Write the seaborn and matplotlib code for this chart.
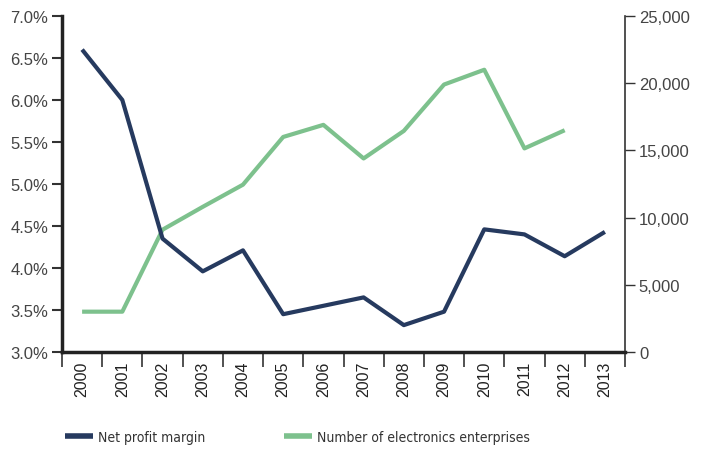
import numpy as np
import pandas as pd
import matplotlib
matplotlib.use("Agg")
import matplotlib.pyplot as plt
import seaborn as sns
from matplotlib.lines import Line2D
from matplotlib.ticker import FuncFormatter, FixedLocator

years = ['2000', '2001', '2002', '2003', '2004', '2005', '2006',
         '2007', '2008', '2009', '2010', '2011', '2012', '2013']
net_margin = [6.6, 6.0, 4.35, 3.96, 4.21, 3.45, 3.55,
              3.65, 3.32, 3.48, 4.46, 4.40, 4.14, 4.43]
enterprises = [3000, 3000, 9100, 10800, 12450, 16000, 16900,
               14400, 16450, 19900, 21000, 15150, 16500, np.nan]

navy = '#263a5f'
green = '#7dc18d'

sns.set_theme(style='white')
plt.rcParams['font.family'] = ['Liberation Sans', 'DejaVu Sans']

df = pd.DataFrame({'pos': np.arange(len(years)), 'year': years,
                   'margin': net_margin, 'ent': enterprises})

fig = plt.figure(figsize=(7.01, 4.52), dpi=100)
ax = fig.add_axes([62 / 701, 1 - 353 / 452, (625 - 62) / 701, (353 - 17) / 452])
ax2 = ax.twinx()

sns.lineplot(data=df, x='pos', y='margin', ax=ax, color=navy, lw=3.0,
             solid_capstyle='butt', zorder=3)
sns.lineplot(data=df.dropna(), x='pos', y='ent', ax=ax2, color=green, lw=3.0,
             solid_capstyle='butt', zorder=2)
ax.set_zorder(ax2.get_zorder() + 1)
ax.patch.set_visible(False)

ax.set_xlim(-0.5, len(years) - 0.5)
ax.set_ylim(3.0, 7.0)
ax2.set_ylim(0, 25000)
ax.set_xlabel('')
ax.set_ylabel('')
ax2.set_ylabel('')

ax.set_yticks(np.arange(3.0, 7.01, 0.5))
ax.yaxis.set_major_formatter(FuncFormatter(lambda v, p: f'{v:.1f}%'))
ax2.set_yticks(np.arange(0, 25001, 5000))
ax2.yaxis.set_major_formatter(FuncFormatter(lambda v, p: f'{int(v):,}'))

ax.xaxis.set_major_locator(FixedLocator(np.arange(-0.5, len(years), 1.0)))
ax.xaxis.set_major_formatter(FuncFormatter(lambda v, p: ''))
ax.xaxis.set_minor_locator(FixedLocator(df['pos']))
ax.set_xticklabels(years, minor=True, rotation=90)
ax.tick_params(axis='x', which='major', direction='out', length=11, width=1.2,
               color='#333333', bottom=True)
ax.tick_params(axis='x', which='minor', length=0, pad=6, labelsize=11.5,
               labelcolor='#222222', bottom=True)
ax.tick_params(axis='y', direction='out', length=7, width=1.5, color='#333333',
               labelsize=12, labelcolor='#444444', left=True, pad=3)
ax2.tick_params(axis='y', direction='out', length=7, width=1.0, color='#333333',
                labelsize=12, labelcolor='#444444', right=True, pad=3)

for a in (ax, ax2):
    a.spines['top'].set_visible(False)
    a.grid(False)
ax.spines['right'].set_visible(False)
ax.spines['left'].set_linewidth(2.5)
ax.spines['left'].set_color('#222222')
ax.spines['bottom'].set_linewidth(2.5)
ax.spines['bottom'].set_color('#222222')
ax2.spines['left'].set_visible(False)
ax2.spines['bottom'].set_visible(False)
ax2.spines['right'].set_linewidth(1.2)
ax2.spines['right'].set_color('#333333')

handles = [Line2D([], [], color=navy, lw=4, solid_capstyle='butt'),
           Line2D([], [], color=green, lw=4, solid_capstyle='butt')]
fig.legend(handles, ['Net profit margin', 'Number of electronics enterprises'],
           loc='center left', bbox_to_anchor=(65 / 701, 1 - 438 / 452), ncol=2,
           frameon=False, handlelength=2.0, handletextpad=0.35,
           columnspacing=5.7, labelcolor='#333333', borderpad=0, borderaxespad=0,
           prop={'family': 'DejaVu Sans', 'stretch': 'condensed', 'size': 10})

fig.savefig('out.png', dpi=100)
